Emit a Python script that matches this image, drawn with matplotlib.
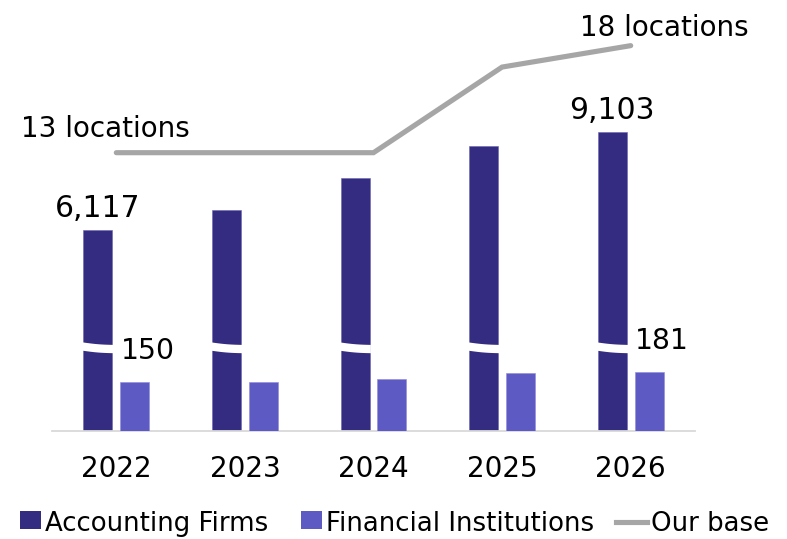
import numpy as np
import matplotlib
matplotlib.use("Agg")
import matplotlib.pyplot as plt
from matplotlib.patches import Rectangle, Polygon
from matplotlib.lines import Line2D
from matplotlib.legend_handler import HandlerPatch
import matplotlib.transforms as mtransforms

plt.rcParams['font.family'] = ['DejaVu Sans']

years = ["2022", "2023", "2024", "2025", "2026"]
accounting_firms = [6117, 6720, 7680, 8660, 9103]
financial_institutions = [150, 152, 162, 179, 181]
our_base = [13, 13, 13, 17, 18]

acc_labels = {0: "6,117", 4: "9,103"}
fin_labels = {0: "150", 4: "181"}
base_labels = {0: "13 locations", 4: "18 locations"}

C_ACC = "#332C80"
C_FIN = "#5E5AC4"
C_LINE = "#A6A6A6"

W, H = 787, 539
fig = plt.figure(figsize=(W / 100, H / 100), dpi=100)
ax_rect = [52 / W, (H - 431) / H, 643 / W, 431 / H]
ax = fig.add_axes(ax_rect)
ax_fin = ax.twinx()
ax_line = ax.twinx()

x = np.arange(len(years))
bw = 29 / 128.6
off = 18.4 / 128.6

ax.bar(x - off, accounting_firms, width=bw, color=C_ACC, edgecolor="#6B66B0", linewidth=0.4, zorder=2)
ax_fin.bar(x + off, financial_institutions, width=bw, color=C_FIN, edgecolor="#8C89DA", linewidth=0.4, zorder=2)
ax_line.plot(x, our_base, color=C_LINE, linewidth=3.7, solid_capstyle='round', solid_joinstyle='miter', zorder=3)

for a in (ax, ax_fin, ax_line):
    a.set_xlim(-0.5, len(years) - 0.5)
    for s in a.spines.values():
        s.set_visible(False)
    a.set_yticks([])
ax.set_ylim(0, 431 * 30.4)
ax_fin.set_ylim(0, 431 * 3.09)
ax_line.set_ylim(0, 431 * 0.04671)

ax.spines['bottom'].set_visible(True)
ax.spines['bottom'].set_color("#D9D9D9")
ax.spines['bottom'].set_linewidth(1.3)
ax.set_xticks(x)
ax.set_xticklabels(years, fontsize=20)
ax.tick_params(axis='x', length=0, pad=17)

# break marks on accounting bars (white wavy band)
blend = mtransforms.blended_transform_factory(ax.transData, ax.transAxes)
t = np.linspace(0, 1, 30)
for xi in x:
    x0 = xi - off - bw / 2 - 0.01
    x1 = xi - off + bw / 2 + 0.01
    xs = x0 + (x1 - x0) * t
    ytop_px = 342.3 + 2.6 * t + 0.6 * np.sin(np.pi * t)
    ybot_px = ytop_px + 8.3
    top = (431 - ytop_px) / 431
    bot = (431 - ybot_px) / 431
    pts = np.column_stack([np.concatenate([xs, xs[::-1]]), np.concatenate([top, bot[::-1]])])
    ax_line.add_patch(Polygon(pts, closed=True, facecolor="white", edgecolor="none",
                              transform=blend, zorder=5))

# labels
for i, s in acc_labels.items():
    ax.annotate(s, (x[i] - off, accounting_firms[i]), xytext=(0, 9.4), textcoords='offset points',
                ha='center', va='baseline', fontsize=21.5, color='black')
for i, s in fin_labels.items():
    ax_fin.annotate(s, (x[i] + off - bw / 2, financial_institutions[i]), xytext=(0.5, 16.8),
                    textcoords='offset points', ha='left', va='baseline', fontsize=20.3, color='black')
base_off = {0: (-8, 11.3), 4: (24, 7.2)}
for i, s in base_labels.items():
    ax_line.annotate(s, (x[i], our_base[i]), xytext=base_off[i], textcoords='offset points',
                     ha='center', va='baseline', fontsize=20, color='black', zorder=6)

# legend
def square_patch(legend, orig_handle, xdescent, ydescent, width, height, fontsize):
    w = 15.1
    h = 13.0
    return Rectangle((-xdescent + width - w, -ydescent + height / 2 - h / 2 + 1.5), w, h)

handles = [Rectangle((0, 0), 1, 1, facecolor=C_ACC, edgecolor="none"),
           Rectangle((0, 0), 1, 1, facecolor=C_FIN, edgecolor="none"),
           Line2D([0], [0], color=C_LINE, linewidth=3.7)]
labels = ["Accounting Firms", "Financial Institutions", "Our base"]
fig.legend(handles, labels, loc='center left', bbox_to_anchor=(10 / W, (H - 524) / H),
           ncol=3, frameon=False, fontsize=18.7, handlelength=1.19, handletextpad=0.16,
           columnspacing=0.86, borderpad=0, borderaxespad=0,
           handler_map={Rectangle: HandlerPatch(patch_func=square_patch)})

fig.savefig("out.png", dpi=100)
